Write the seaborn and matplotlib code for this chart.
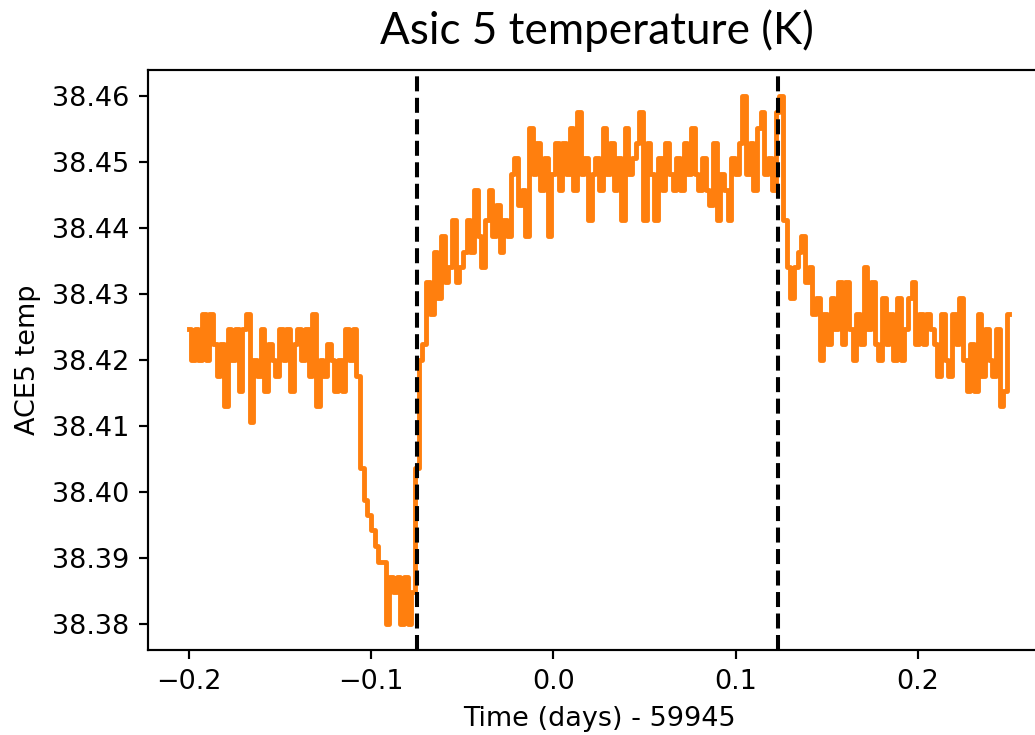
import numpy as np
import matplotlib
matplotlib.use("Agg")
import matplotlib.pyplot as plt
import seaborn as sns

# ---- data ----
pre_drop = [
    38.4247, 38.4200, 38.4247, 38.4200, 38.4270,
    38.4200, 38.4270, 38.4224, 38.4176, 38.4224,
    38.4130, 38.4247, 38.4200, 38.4247, 38.4153,
    38.4247, 38.4270, 38.4106, 38.4200, 38.4176,
    38.4247, 38.4153, 38.4224, 38.4200, 38.4176,
    38.4247, 38.4200, 38.4247, 38.4153, 38.4224,
    38.4247, 38.4200, 38.4247, 38.4176, 38.4270,
    38.4130, 38.4200, 38.4176, 38.4224, 38.4200,
    38.4153, 38.4200, 38.4153, 38.4247, 38.4200,
    38.4247, 38.4176,
]
cooldown = [
    38.4036, 38.3988, 38.3965, 38.3942, 38.3918, 38.3894, 38.3894, 38.3800,
    38.3871, 38.3848, 38.3871, 38.3800, 38.3871, 38.3800, 38.3848, 38.4036,
]
warmup_plateau = [
    38.4200, 38.4224, 38.4318, 38.4270, 38.4364, 38.4294, 38.4388, 38.4318, 38.4341, 38.4412,
    38.4318, 38.4341, 38.4364, 38.4412, 38.4364, 38.4458, 38.4388, 38.4341, 38.4412, 38.4458,
    38.4388, 38.4435, 38.4364, 38.4412, 38.4388, 38.4482, 38.4506, 38.4435, 38.4458, 38.4388,
    38.4552, 38.4482, 38.4529, 38.4458, 38.4506, 38.4388, 38.4482, 38.4529, 38.4458, 38.4529,
    38.4482, 38.4552, 38.4458, 38.4576, 38.4482, 38.4506, 38.4412, 38.4482, 38.4506, 38.4458,
    38.4552, 38.4482, 38.4529, 38.4458, 38.4506, 38.4412, 38.4552, 38.4482, 38.4506, 38.4529,
    38.4576, 38.4412, 38.4529, 38.4482, 38.4412, 38.4506, 38.4458, 38.4529, 38.4482, 38.4458,
    38.4506, 38.4458, 38.4529, 38.4482, 38.4552, 38.4482, 38.4458, 38.4506, 38.4458, 38.4435,
    38.4529, 38.4412, 38.4482, 38.4458, 38.4412, 38.4506, 38.4482, 38.4529, 38.4600, 38.4482,
    38.4529, 38.4458, 38.4552, 38.4576, 38.4482, 38.4506, 38.4458, 38.4576, 38.4600,
]
relaxation = [
    38.4412, 38.4341, 38.4294, 38.4341, 38.4364, 38.4388, 38.4318, 38.4341, 38.4270, 38.4294,
    38.4200, 38.4270, 38.4224, 38.4294, 38.4247, 38.4318, 38.4224, 38.4318, 38.4247, 38.4200,
    38.4270, 38.4224, 38.4341, 38.4247, 38.4318, 38.4224, 38.4200, 38.4294, 38.4224, 38.4270,
    38.4200, 38.4294, 38.4200, 38.4247, 38.4294, 38.4318, 38.4224, 38.4270, 38.4224, 38.4270,
    38.4247, 38.4224, 38.4176, 38.4270, 38.4200, 38.4176, 38.4270, 38.4224, 38.4294, 38.4200,
    38.4153, 38.4224, 38.4153, 38.4270, 38.4176, 38.4247, 38.4200, 38.4176, 38.4247, 38.4130,
    38.4153, 38.4270,
]
t_start, t_end = -0.2, 0.25
event_times = [-0.0748, 0.1231]

x_ticks = [-0.2, -0.1, 0.0, 0.1, 0.2]
y_ticks = [38.38, 38.39, 38.40, 38.41, 38.42, 38.43, 38.44, 38.45, 38.46]
y_tick_labels = ["38.38", "38.39", "38.40", "38.41", "38.42", "38.43", "38.44", "38.45", "38.46"]

title = "Asic 5 temperature (K)"
x_label = "Time (days) - 59945"
y_label = "ACE5 temp"

temp = pre_drop + cooldown + warmup_plateau + relaxation
time = np.linspace(t_start, t_end, len(temp))  # uniformly sampled time axis

# ---- figure ----
DPI = 194.6
fig = plt.figure(figsize=(1035 / DPI, 735 / DPI), dpi=DPI)
ax = fig.add_axes([148 / 1035, 85 / 735, 902 / 1035, 580 / 735])

sns.lineplot(x=time, y=temp, color="#ff7f0e", linewidth=1.8,
             drawstyle="steps-mid", ax=ax)
for t in event_times:
    ax.axvline(t, color="black", linestyle="--", linewidth=1.5)

ax.set_xticks(x_ticks)
ax.set_yticks(y_ticks)
ax.set_yticklabels(y_tick_labels)
ax.set_xlabel(x_label)
ax.set_ylabel(y_label)

fig.text(597 / 1035, 1 - 31 / 735, title, fontsize=16.3, family="Lato",
         ha="center", va="center")

fig.savefig("out.png", dpi=DPI)
